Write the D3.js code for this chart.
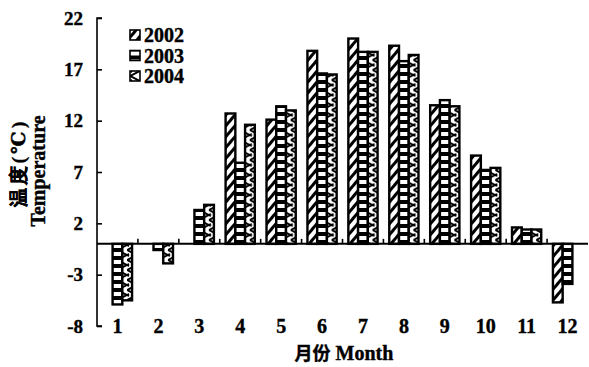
<!DOCTYPE html>
<html>
<head>
<meta charset="utf-8">
<script src="https://cdn.jsdelivr.net/npm/d3@7"></script>
<style>
  body { margin: 0; background: #fff; }
  text { font-family: "Liberation Serif", "DejaVu Serif", serif; font-weight: bold; fill: #000; stroke: #000; stroke-width: 0.4px; }
</style>
</head>
<body>
<div id="chart"></div>
<script>
// monthly mean temperature (null = no bar drawn)
const months = [1, 2, 3, 4, 5, 6, 7, 8, 9, 10, 11, 12];
const years = ['2002', '2003', '2004'];
const t2002 = [null, null, null, 12.7, 12.1, 18.8, 20.0, 19.3, 13.5, 8.6, 1.6, -5.7];
const t2003 = [-5.9, -0.6, 3.3, 7.9, 13.4, 16.6, 18.7, 17.8, 14.0, 7.2, 1.4, -3.9];
const t2004 = [-5.5, -1.9, 3.8, 11.6, 13.0, 16.5, 18.7, 18.4, 13.4, 7.4, 1.4, null];
const yTicks = [22, 17, 12, 7, 2, -3, -8];

const series = { '2002': t2002, '2003': t2003, '2004': t2004 };

const width = 589, height = 367;
const svg = d3.select('#chart').append('svg')
  .attr('width', width)
  .attr('height', height);

// hatch patterns for the three years
const defs = svg.append('defs');

const p1 = defs.append('pattern')
  .attr('id', 'p2002')
  .attr('patternUnits', 'userSpaceOnUse')
  .attr('width', 7).attr('height', 7)
  .attr('patternTransform', 'rotate(40)');
p1.append('rect').attr('width', 7).attr('height', 7).attr('fill', '#fff');
p1.append('rect').attr('x', 0).attr('width', 3).attr('height', 7).attr('fill', '#000');

const p2 = defs.append('pattern')
  .attr('id', 'p2003')
  .attr('patternUnits', 'userSpaceOnUse')
  .attr('width', 8).attr('height', 8);
p2.append('rect').attr('width', 8).attr('height', 8).attr('fill', '#fff');
p2.append('rect').attr('y', 0).attr('width', 8).attr('height', 4).attr('fill', '#000');

const p3 = defs.append('pattern')
  .attr('id', 'p2004')
  .attr('patternUnits', 'userSpaceOnUse')
  .attr('width', 10).attr('height', 10);
p3.append('rect').attr('width', 10).attr('height', 10).attr('fill', '#fff');
p3.append('path').attr('d', 'M0,0 L10,5 L0,10 M0,5 L2,4 M0,5 L2,6')
  .attr('fill', 'none').attr('stroke', '#000').attr('stroke-width', 2);

const fills = { '2002': 'url(#p2002)', '2003': 'url(#p2003)', '2004': 'url(#p2004)' };

const x0 = d3.scaleBand()
  .domain(months)
  .range([97, 588]);

const x1 = d3.scaleBand()
  .domain(years)
  .range([0, x0.bandwidth()])
  .paddingOuter(0.6);

const y = d3.scaleLinear()
  .domain([-8, 22])
  .range([326, 18]);

// bars
const groups = svg.append('g').selectAll('g')
  .data(months)
  .enter().append('g')
  .attr('transform', function (d) { return 'translate(' + x0(d) + ',0)'; });

groups.selectAll('rect')
  .data(function (m, i) {
    return years.map(function (yr) { return { year: yr, v: series[yr][i] }; })
      .filter(function (d) { return d.v !== null; });
  })
  .enter().append('rect')
  .attr('x', function (d) { return x1(d.year); })
  .attr('y', function (d) { return y(Math.max(0, d.v)); })
  .attr('width', x1.bandwidth())
  .attr('height', function (d) { return Math.abs(y(d.v) - y(0)); })
  .attr('fill', function (d) { return fills[d.year]; })
  .attr('stroke', '#000')
  .attr('stroke-width', 2.4);

// y axis, ticks pointing inward
const yAxis = d3.axisRight(y)
  .tickValues(yTicks)
  .tickSize(5)
  .tickFormat('');

const gy = svg.append('g')
  .attr('transform', 'translate(97,0)')
  .call(yAxis);
gy.select('.domain').attr('d', 'M5,18H0V326H5');
gy.selectAll('line, path').attr('stroke', '#000').attr('stroke-width', 1.6);

svg.append('g').selectAll('text')
  .data(yTicks)
  .enter().append('text')
  .attr('x', 83)
  .attr('y', function (d) { return y(d); })
  .attr('dy', '0.35em')
  .attr('text-anchor', 'end')
  .attr('font-size', 19)
  .text(function (d) { return d; });

// zero line with small upward ticks between months
svg.append('line')
  .attr('x1', 97).attr('x2', 588)
  .attr('y1', y(0)).attr('y2', y(0))
  .attr('stroke', '#000').attr('stroke-width', 2);

svg.append('g').selectAll('line')
  .data(months.slice(1))
  .enter().append('line')
  .attr('x1', function (d) { return x0(d); })
  .attr('x2', function (d) { return x0(d); })
  .attr('y1', y(0)).attr('y2', y(0) - 5)
  .attr('stroke', '#000').attr('stroke-width', 1.6);

// month labels
svg.append('g').selectAll('text')
  .data(months)
  .enter().append('text')
  .attr('x', function (d) { return x0(d) + x0.bandwidth() / 2; })
  .attr('y', 333)
  .attr('text-anchor', 'middle')
  .attr('font-size', 20)
  .text(function (d) { return d; });

// axis titles
svg.append('text')
  .attr('x', 344).attr('y', 360)
  .attr('text-anchor', 'middle')
  .attr('font-size', 20)
  .html('<tspan font-family="Noto Sans CJK SC" font-size="18">月份</tspan> Month');

svg.append('text')
  .attr('transform', 'translate(25,163) rotate(-90)')
  .attr('text-anchor', 'middle')
  .attr('font-family', 'Noto Sans CJK SC')
  .attr('font-size', 19)
  .attr('letter-spacing', 3)
  .text('温度(℃)');

svg.append('text')
  .attr('transform', 'translate(45,171) rotate(-90)')
  .attr('text-anchor', 'middle')
  .attr('font-size', 20)
  .text('Temperature');

// legend
const legend = svg.append('g').selectAll('g')
  .data(years)
  .enter().append('g')
  .attr('transform', function (d, i) { return 'translate(130,' + (35 + i * 20.5) + ')'; });

legend.append('rect')
  .attr('x', 0).attr('y', -5)
  .attr('width', 10).attr('height', 10)
  .attr('fill', function (d) { return fills[d]; })
  .attr('stroke', '#000')
  .attr('stroke-width', 1.6);

legend.append('text')
  .attr('x', 14)
  .attr('dy', '0.35em')
  .attr('font-size', 20)
  .text(function (d) { return d; });
</script>
</body>
</html>
